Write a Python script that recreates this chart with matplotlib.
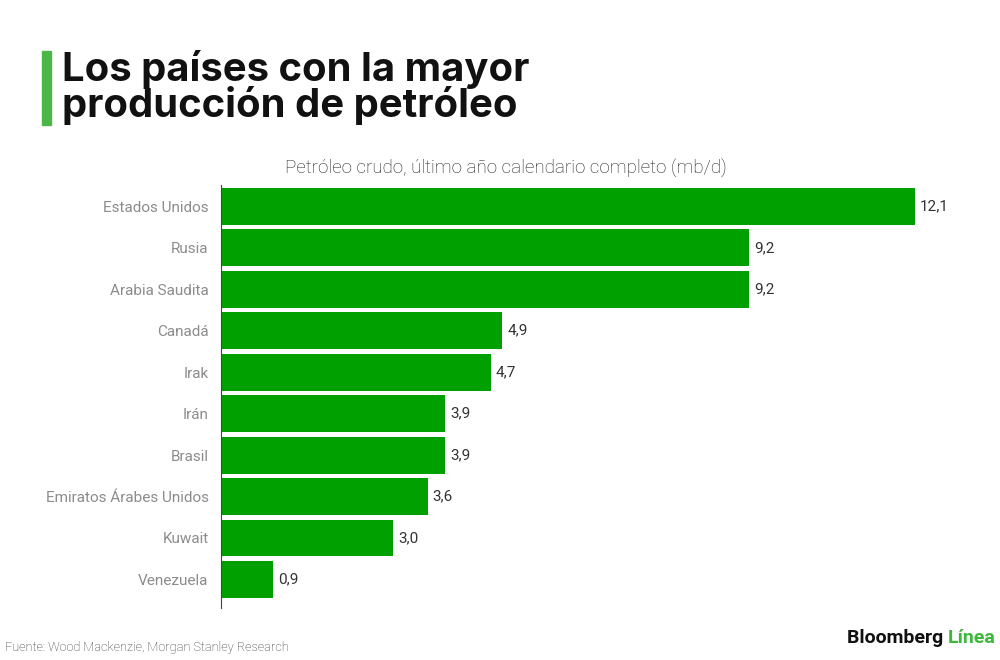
import matplotlib.pyplot as plt

# Data
paises = ['Estados Unidos', 'Rusia', 'Arabia Saudita', 'Canadá', 'Irak',
          'Irán', 'Brasil', 'Emiratos Árabes Unidos', 'Kuwait', 'Venezuela']
produccion = [12.1, 9.2, 9.2, 4.9, 4.7, 3.9, 3.9, 3.6, 3.0, 0.9]

BAR_GREEN = '#00a000'
FONT = ['Roboto', 'DejaVu Sans']

fig = plt.figure(figsize=(10, 6.6), dpi=100)
ax = fig.add_axes([0.221, 0.0788, 0.7457, 0.641])

y = list(range(len(paises)))
ax.barh(y, produccion, height=0.89, color=BAR_GREEN)
ax.set_ylim(9.69, -0.52)
ax.set_xlim(0, 13)

ax.set_yticks(y)
ax.set_yticklabels(paises, fontsize=11, color='#8c8c8c', family=FONT)
ax.tick_params(axis='y', length=0, pad=9)
ax.set_xticks([])
for s in ['top', 'right', 'bottom']:
    ax.spines[s].set_visible(False)
ax.spines['left'].set_color('#444444')
ax.spines['left'].set_linewidth(0.8)

# value labels
for yi, v in zip(y, produccion):
    ax.text(v + 0.09, yi, f'{v:.1f}'.replace('.', ','), va='center', ha='left',
            fontsize=11, color='#333333', family=FONT)

# title block
fig.patches.append(plt.Rectangle((0.042, 0.811), 0.009, 0.111, transform=fig.transFigure,
                                 color='#4cb748'))
fig.text(0.062, 0.8227, 'Los países con la mayor\nproducción de petróleo', fontsize=28.8,
         fontweight='bold', family=['Inter', 'DejaVu Sans'], color='#111111',
         va='baseline', linespacing=0.91)

fig.text(0.506, 0.737, 'Petróleo crudo, último año calendario completo (mb/d)',
         fontsize=13.5, ha='center', va='baseline', color='#222222',
         family=FONT, fontweight='light')

# footer
fig.text(0.005, 0.014, 'Fuente: Wood Mackenzie, Morgan Stanley Research',
         fontsize=9.2, color='#333333', family=FONT, fontweight='light', va='baseline')
t = fig.text(0.847, 0.026, 'Bloomberg ', fontsize=14, fontweight='bold',
             family=['Roboto', 'DejaVu Sans'], color='#111111', va='baseline')
fig.canvas.draw()
bb = t.get_window_extent()
fig.text(bb.x1 / fig.bbox.width, 0.026, 'Línea', fontsize=14, fontweight='bold',
         family=['Roboto', 'DejaVu Sans'], color='#3cb93c', va='baseline')

fig.savefig('out.png', dpi=100, facecolor='white')
